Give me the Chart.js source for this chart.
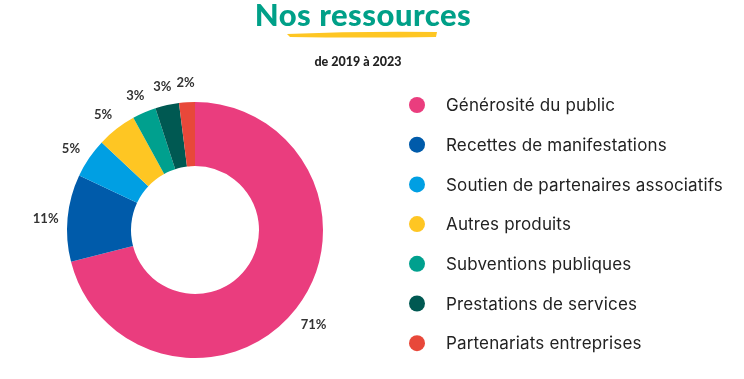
<!DOCTYPE html>
<html lang="fr">
<head>
<meta charset="utf-8">
<title>Nos ressources</title>
<script src="https://cdn.jsdelivr.net/npm/chart.js@4"></script>
<style>
  html, body { margin: 0; padding: 0; background: #fff; }
  #wrap { position: relative; width: 744px; height: 379px; }
</style>
</head>
<body>
<div id="wrap"><canvas id="grafico" width="744" height="379"></canvas></div>
<script>
const categories = [
  "Générosité du public",
  "Recettes de manifestations",
  "Soutien de partenaires associatifs",
  "Autres produits",
  "Subventions publiques",
  "Prestations de services",
  "Partenariats entreprises"
];
const valeurs = [71, 11, 5, 5, 3, 3, 2];
const couleurs = ["#EA3D7E", "#005BAA", "#009FE3", "#FEC623", "#00A08E", "#005952", "#E8483A"];
const titre = "Nos ressources";
const sousTitre = "de 2019 à 2023";

// titre, sous-titre, pourcentages et légende dessinés à la main
const decor = {
  id: "decor",
  afterDraw(chart) {
    const c = chart.ctx;
    c.save();

    // titre
    c.textAlign = "center";
    c.textBaseline = "alphabetic";
    c.fillStyle = "#00A088";
    c.font = "900 31px Lato";
    c.letterSpacing = "0.5px";
    c.fillText(titre, 363, 26);
    c.letterSpacing = "0px";

    // trait jaune sous le titre
    c.fillStyle = "#FEC623";
    c.beginPath();
    c.moveTo(287, 34);
    c.quadraticCurveTo(360, 31, 437, 32);
    c.lineTo(436, 37);
    c.quadraticCurveTo(360, 38, 290, 37);
    c.closePath();
    c.fill();

    c.fillStyle = "#222";
    c.font = "900 12.5px Lato";
    c.fillText(sousTitre, 358, 66);

    // pourcentages autour de l'anneau
    const arcs = chart.getDatasetMeta(0).data;
    c.font = "bold 13px Lato";
    c.fillStyle = "#333";
    c.textBaseline = "middle";
    arcs.forEach((arc, i) => {
      const a = (arc.startAngle + arc.endAngle) / 2;
      const r = arc.outerRadius + 22;
      c.fillText(valeurs[i] + "%", arc.x + Math.cos(a) * r, arc.y + Math.sin(a) * r + 3);
    });

    // légende
    c.textAlign = "left";
    c.font = "17px Inter";
    c.letterSpacing = "0.15px";
    categories.forEach((nom, i) => {
      const y = 105 + i * 39.7;
      c.fillStyle = couleurs[i];
      c.beginPath();
      c.arc(417, y, 8, 0, Math.PI * 2);
      c.fill();
      c.fillStyle = "#222";
      c.fillText(nom, 446, y + 1);
    });

    c.restore();
  }
};

new Chart(document.getElementById("grafico"), {
  type: "doughnut",
  data: {
    labels: categories,
    datasets: [{
      data: valeurs,
      backgroundColor: couleurs,
      borderWidth: 0
    }]
  },
  options: {
    responsive: false,
    animation: false,
    cutout: "50%",
    layout: { padding: { left: 67, right: 421, top: 102, bottom: 21 } },
    plugins: {
      legend: { display: false },
      tooltip: { enabled: false }
    }
  },
  plugins: [decor]
});
</script>
</body>
</html>
